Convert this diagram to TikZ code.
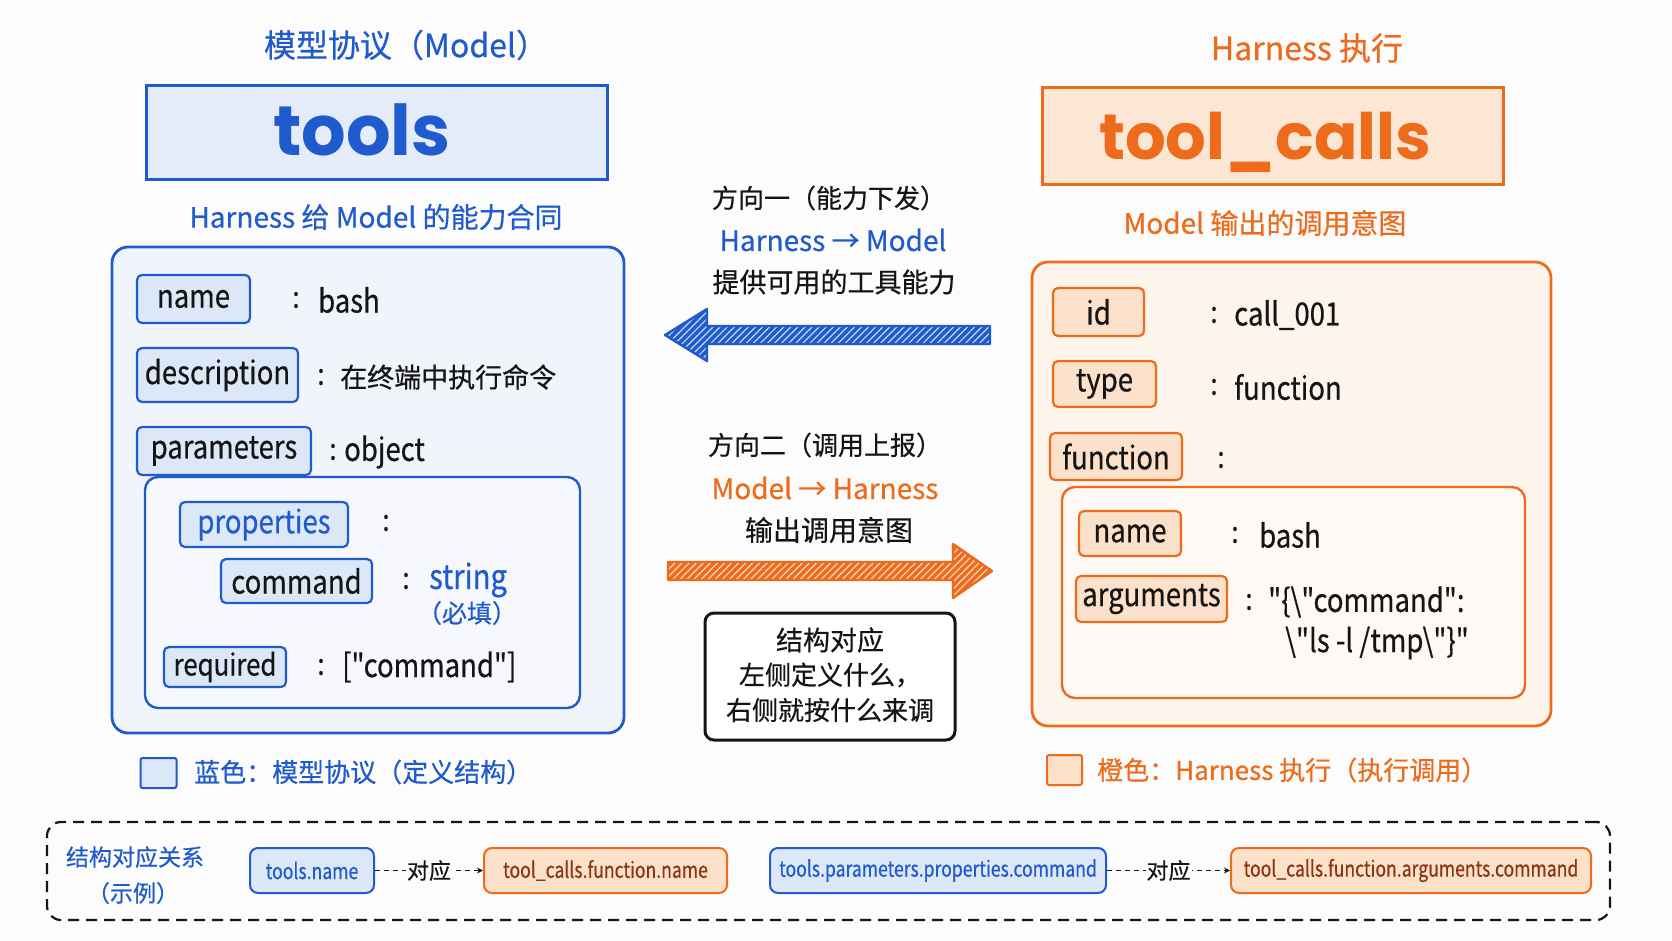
\documentclass[tikz,border=0pt]{standalone}
\usepackage{fontspec}
\setmainfont{Noto Sans CJK SC}[FakeBold=0.5]
\newfontfamily\hw{Noto Sans CJK SC}[FakeStretch=0.86,FakeBold=0.5]
\newfontfamily\hwn{Noto Sans CJK SC}[FakeStretch=0.80,FakeBold=0.4]
\newfontfamily\bigf{Poppins}
\usetikzlibrary{patterns.meta,arrows.meta}
\definecolor{bgc}{HTML}{FCFCFD}
\definecolor{blueM}{HTML}{1F5BCC}
\definecolor{blueT}{HTML}{E4ECF9}
\definecolor{blueO}{HTML}{F0F4FB}
\definecolor{blueL}{HTML}{DCE7F7}
\definecolor{blueI}{HTML}{F6F8FD}
\definecolor{orgM}{HTML}{EE6B1C}
\definecolor{orgT}{HTML}{FCE5D1}
\definecolor{orgO}{HTML}{FDF4EC}
\definecolor{orgL}{HTML}{FBE1CA}
\definecolor{orgI}{HTML}{FEF9F4}
\definecolor{brownT}{HTML}{8A3410}
\definecolor{ink}{HTML}{151515}
\tikzset{
  fs/.style={font=\fontsize{#1}{#1}\selectfont},
  hwf/.style={font=\hw\fontsize{#1}{#1}\selectfont},
  lblL/.style={draw=blueM, fill=blueL, line width=2.2pt, rounded corners=5pt, inner sep=0pt, text=ink},
  lblR/.style={draw=orgM, fill=orgL, line width=2.2pt, rounded corners=5pt, inner sep=0pt, text=ink},
  outerL/.style={draw=blueM, fill=blueO, line width=2.8pt, rounded corners=16pt, inner sep=0pt},
  outerR/.style={draw=orgM, fill=orgO, line width=2.8pt, rounded corners=16pt, inner sep=0pt},
  innerL/.style={draw=blueM, fill=blueI, line width=2.4pt, rounded corners=13pt, inner sep=0pt},
  innerR/.style={draw=orgM, fill=orgI, line width=2.4pt, rounded corners=13pt, inner sep=0pt},
  titleboxL/.style={draw=blueM, line width=3pt, inner sep=0pt,
    preaction={fill=blueT},
    preaction={pattern={Lines[angle=45,distance=7pt,line width=0.7pt]}, pattern color=blueM!10}},
  titleboxR/.style={draw=orgM, line width=3pt, inner sep=0pt,
    preaction={fill=orgT},
    preaction={pattern={Lines[angle=45,distance=7pt,line width=0.7pt]}, pattern color=orgM!12}},
  botL/.style={draw=blueM, fill=blueL, line width=2pt, rounded corners=8pt, inner sep=0pt, text=blueM, font=\hwn\fontsize{22}{22}\selectfont},
  botR/.style={draw=orgM, fill=orgL, line width=2pt, rounded corners=8pt, inner sep=0pt, text=brownT, font=\hwn\fontsize{22}{22}\selectfont},
  val/.style={hwf=32, text=ink, anchor=west, inner sep=0pt},
  colon/.style={hwf=30, text=ink, inner sep=0pt},
  corr/.style={draw=ink, line width=1.6pt, dash pattern=on 5pt off 4pt, -{Stealth[length=6pt,width=6pt]}},
  arrowhatch/.style={pattern={Lines[angle=45,distance=5pt,line width=1.2pt]}, pattern color=white!75!#1},
}
\begin{document}
\begin{tikzpicture}[x=1pt,y=-1pt]
\useasboundingbox (0,0) rectangle (1672,941);
\fill[bgc] (0,0) rectangle (1672,941);

% ---------------- left column ----------------
\node[fs=32, text=blueM] (titleL) at (406,45) {模型协议（Model）};
\node[titleboxL, minimum width=461, minimum height=94] (toolsbox) at (376.5,133) {};
\node[font=\bigf\bfseries\fontsize{70}{70}\selectfont, text=blueM, anchor=base, inner sep=0pt] (toolsT) at (362,156) {tools};
\node[fs=28, text=blueM] (subL) at (376,217) {Harness 给 Model 的能力合同};

\node[outerL, minimum width=512, minimum height=486] (outL) at (368,490) {};
\node[innerL, minimum width=435, minimum height=231] (inL) at (362.5,592.5) {};

\node[lblL, minimum width=113, minimum height=48, hwf=32] (nameL) at (193.5,299) {name};
\node[colon] (cL1) at (296,300) {:};
\node[val] (vL1) at (318,300) {bash};

\node[lblL, minimum width=161, minimum height=54, hwf=32] (descL) at (217.5,375) {description};
\node[colon] (cL2) at (321,377) {:};
\node[fs=27, text=ink, anchor=west, inner sep=0pt] (vL2) at (340,377) {在终端中执行命令};

\node[lblL, minimum width=174, minimum height=48, hwf=32] (paramL) at (224,451) {parameters};
\node[colon] (cL3) at (333,452) {:};
\node[val] (vL3) at (344,452) {object};

\node[lblL, minimum width=168, minimum height=45, hwf=32, text=blueM] (propL) at (264,524.5) {properties};
\node[colon] (cL4) at (386,523) {:};

\node[lblL, minimum width=151, minimum height=44, hwf=32] (cmdL) at (296.5,581) {command};
\node[colon] (cL5) at (406,581) {:};
\node[val, text=blueM, hwf=34] (vL5) at (429,580) {string};
\node[fs=25, text=blueM] (vL5b) at (467,613) {（必填）};

\node[lblL, minimum width=122, minimum height=40, hwf=30] (reqL) at (225,667) {required};
\node[colon] (cL6) at (321,667) {:};
\node[val] (vL6) at (342,667) {["command"]};

\node[draw=blueM, fill=blueL, line width=2pt, rounded corners=2pt, minimum width=36, minimum height=30, inner sep=0pt] (legL) at (158.5,773) {};
\node[fs=26, text=blueM, anchor=west, inner sep=0pt] (legLT) at (194,772) {蓝色：模型协议（定义结构）};

% ---------------- middle ----------------
\node[fs=26, text=ink] (d1a) at (829,198) {方向一（能力下发）};
\node[fs=28, text=blueM] (d1b) at (833,240) {Harness → Model};
\node[fs=27, text=ink] (d1c) at (834,282) {提供可用的工具能力};
\path[fill=blueM,
  postaction={arrowhatch=blueM},
  postaction={draw=blueM, line width=2.4pt, line join=round}]
  (990,326) -- (707,326) -- (707,309) -- (665,335) -- (707,361) -- (707,344) -- (990,344) -- cycle;

\node[fs=26, text=ink] (d2a) at (825,445) {方向二（调用上报）};
\node[fs=28, text=orgM] (d2b) at (825,488) {Model → Harness};
\node[fs=28, text=ink] (d2c) at (829,530) {输出调用意图};
\path[fill=orgM,
  postaction={arrowhatch=orgM},
  postaction={draw=orgM, line width=2.4pt, line join=round}]
  (668,562) -- (953,562) -- (953,544) -- (992,571) -- (953,598) -- (953,580) -- (668,580) -- cycle;

\node[draw=ink, fill=white, line width=3pt, rounded corners=9pt, minimum width=250, minimum height=127, inner sep=0pt] (note) at (830,676.5) {};
\node[fs=27, text=ink] (n1) at (830,640) {结构对应};
\node[fs=26, text=ink] (n2) at (830,675) {左侧定义什么，};
\node[fs=26, text=ink] (n3) at (830,710) {右侧就按什么来调};

% ---------------- right column ----------------
\node[fs=32, text=orgM] (titleR) at (1307,48) {Harness 执行};
\node[titleboxR, minimum width=461, minimum height=97] (tcbox) at (1272.5,136.5) {};
\node[font=\bigf\bfseries\fontsize{64}{64}\selectfont, text=orgM, anchor=base, inner sep=0pt] (tcT) at (1265,160) {tool\_calls};
\node[fs=28, text=orgM] (subR) at (1265,223) {Model 输出的调用意图};

\node[outerR, minimum width=519, minimum height=464] (outR) at (1291.5,494) {};
\node[innerR, minimum width=463, minimum height=211] (inR) at (1293.5,592.5) {};

\node[lblR, minimum width=91, minimum height=48, hwf=32] (idR) at (1098.5,312) {id};
\node[colon] (cR1) at (1214,315) {:};
\node[val] (vR1) at (1234,315) {call\_001};

\node[lblR, minimum width=103, minimum height=46, hwf=32] (typeR) at (1104.5,384) {type};
\node[colon] (cR2) at (1214,387) {:};
\node[val] (vR2) at (1234,387) {function};

\node[lblR, minimum width=132, minimum height=47, hwf=32] (funcR) at (1116,456.5) {function};
\node[colon] (cR3) at (1221,460) {:};

\node[lblR, minimum width=102, minimum height=45, hwf=32] (nameR) at (1130,533.5) {name};
\node[colon] (cR4) at (1235,535) {:};
\node[val] (vR4) at (1259,535) {bash};

\node[lblR, minimum width=151, minimum height=46, hwf=32] (argR) at (1151.5,599) {arguments};
\node[colon] (cR5) at (1249,602) {:};
\node[val] (vR5a) at (1268,602) {"\{\textbackslash"command":};
\node[val] (vR5b) at (1285,643) {\textbackslash"ls -l /tmp\textbackslash"\}"};

\node[draw=orgM, fill=orgL, line width=2pt, rounded corners=2pt, minimum width=35, minimum height=30, inner sep=0pt] (legR) at (1064.5,770) {};
\node[fs=26, text=orgM, anchor=west, inner sep=0pt] (legRT) at (1097,770) {橙色：Harness 执行（执行调用）};

% ---------------- bottom ----------------
\node[draw=ink, line width=2.2pt, dash pattern=on 11pt off 7pt, rounded corners=14pt, minimum width=1563, minimum height=98, inner sep=0pt] (dbox) at (828.5,871) {};
\node[fs=23, text=blueM] (rel1) at (135,857) {结构对应关系};
\node[fs=23, text=blueM] (rel2) at (133,893) {（示例）};

\node[botL, minimum width=124, minimum height=45] (b1) at (312,870.5) {tools.name};
\node[botR, minimum width=243, minimum height=45] (b2) at (605.5,870.5) {tool\_calls.function.name};
\node[botL, minimum width=336, minimum height=45] (b3) at (938,870.5) {tools.parameters.properties.command};
\node[botR, minimum width=360, minimum height=45] (b4) at (1411,870.5) {tool\_calls.function.arguments.command};

\draw[corr] (b1.east) -- node[fill=bgc, fs=22, text=ink, inner sep=1pt] (k1) {对应} (b2.west);
\draw[corr] (b3.east) -- node[fill=bgc, fs=22, text=ink, inner sep=1pt] (k2) {对应} (b4.west);
\end{tikzpicture}
\end{document}
